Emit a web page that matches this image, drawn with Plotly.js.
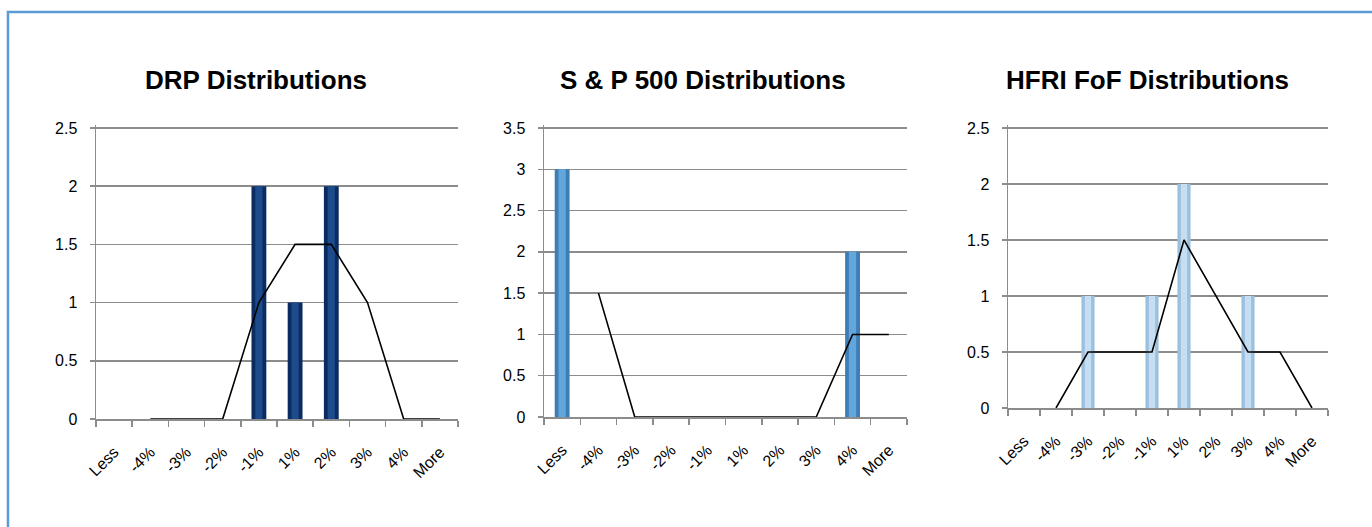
<!DOCTYPE html>
<html>
<head>
<meta charset="utf-8">
<script src="https://cdn.plot.ly/plotly-3.0.1.min.js"></script>
<style>
  html, body { margin: 0; padding: 0; background: #ffffff; }
  #chart { width: 1372px; height: 527px; }
</style>
</head>
<body>
<div id="chart"></div>
<script>
// ---- Data ----
const categories = ['Less', '-4%', '-3%', '-2%', '-1%', '1%', '2%', '3%', '4%', 'More'];

const drpCounts  = [0, 0, 0, 0, 2, 1, 2, 0, 0, 0];
const drpTrend   = [null, 0, 0, 0, 1, 1.5, 1.5, 1, 0, 0];

const spCounts   = [3, 0, 0, 0, 0, 0, 0, 0, 2, 0];
const spTrend    = [null, 1.5, 0, 0, 0, 0, 0, 0, 1, 1];

const hfriCounts = [0, 0, 1, 0, 1, 2, 0, 1, 0, 0];
const hfriTrend  = [null, 0, 0.5, 0.5, 0.5, 1.5, 1, 0.5, 0.5, 0];

const chartTitles = ['DRP Distributions', 'S &amp; P 500 Distributions', 'HFRI FoF Distributions'];
const yMax = [2.5, 3.5, 2.5];

// ---- Layout helpers ----
const W = 1372, H = 527;
const FONT = 'Liberation Sans, Arial, sans-serif';
const GRID = '#8c8c8c';
const PAD = 3; // px of headroom so the top gridline is not clipped at the plot edge

const panels = [
  { counts: drpCounts,  trend: drpTrend,  x0: 96,   x1: 458,  yb: 419, yt: 128, edge: '#0b2c62', mid: '#1d4b8c', titleX: 256 },
  { counts: spCounts,   trend: spTrend,   x0: 544,  x1: 907,  yb: 417, yt: 128, edge: '#3f7db5', mid: '#62a6dc', titleX: 703 },
  { counts: hfriCounts, trend: hfriTrend, x0: 1008, x1: 1328, yb: 408, yt: 128, edge: '#9cbfdc', mid: '#c6def1', titleX: 1147 }
];

const traces = [];
const layout = {
  width: W, height: H,
  margin: { l: 0, r: 0, t: 0, b: 0 },
  paper_bgcolor: '#ffffff',
  plot_bgcolor: 'rgba(0,0,0,0)',
  showlegend: false,
  barmode: 'overlay',
  hovermode: false,
  font: { family: FONT, color: '#000000', size: 16 },
  annotations: [],
  shapes: [{
    type: 'path', xref: 'paper', yref: 'paper',
    path: 'M 0.0058,-0.05 L 0.0058,' + (1 - 12 / H) + ' L 1.05,' + (1 - 12 / H),
    line: { color: '#5b9bd5', width: 2.5 }
  }]
};

panels.forEach((p, i) => {
  const n = i === 0 ? '' : String(i + 1);
  const xa = 'x' + n, ya = 'y' + n;

  traces.push({
    type: 'bar', x: categories, y: p.counts, xaxis: xa, yaxis: ya,
    width: 0.41, marker: { color: p.edge, line: { width: 0 } }
  });
  traces.push({
    type: 'bar', x: categories, y: p.counts, xaxis: xa, yaxis: ya,
    width: 0.2, marker: { color: p.mid, line: { width: 0 } }
  });
  traces.push({
    type: 'scatter', mode: 'lines', x: categories, y: p.trend, xaxis: xa, yaxis: ya,
    line: { color: '#000000', width: 1.6 }, connectgaps: false
  });

  const hPx = p.yb - p.yt;
  layout['xaxis' + n] = {
    type: 'category', anchor: ya,
    domain: [p.x0 / W, p.x1 / W],
    range: [-0.5, 9.5],
    showgrid: false, zeroline: false,
    showline: true, linecolor: GRID, linewidth: 1.5,
    ticks: 'outside', tickson: 'boundaries', ticklen: 6, tickcolor: GRID, tickwidth: 1.5,
    tickangle: -45, tickfont: { family: FONT, size: 16, color: '#000000' },
    ticklabelstandoff: 16,
    fixedrange: true
  };
  layout['yaxis' + n] = {
    anchor: xa,
    domain: [1 - p.yb / H, 1 - (p.yt - PAD) / H],
    range: [0, yMax[i] * (hPx + PAD) / hPx], dtick: 0.5, tick0: 0,
    showgrid: true, gridcolor: GRID, gridwidth: 1.5,
    zeroline: false,
    showline: true, linecolor: GRID, linewidth: 1.5,
    ticks: 'outside', ticklen: 5, tickcolor: GRID, tickwidth: 1.5,
    tickfont: { family: FONT, size: 16, color: '#000000' },
    ticklabelstandoff: 9,
    fixedrange: true
  };

  layout.annotations.push({
    xref: 'paper', yref: 'paper', x: p.titleX / W, y: 1 - 80 / H,
    xanchor: 'center', yanchor: 'middle', showarrow: false,
    text: '<b>' + chartTitles[i] + '</b>',
    font: { family: FONT, size: 26, color: '#000000' }
  });
});

Plotly.newPlot('chart', traces, layout, { staticPlot: true, displayModeBar: false });
</script>
</body>
</html>
